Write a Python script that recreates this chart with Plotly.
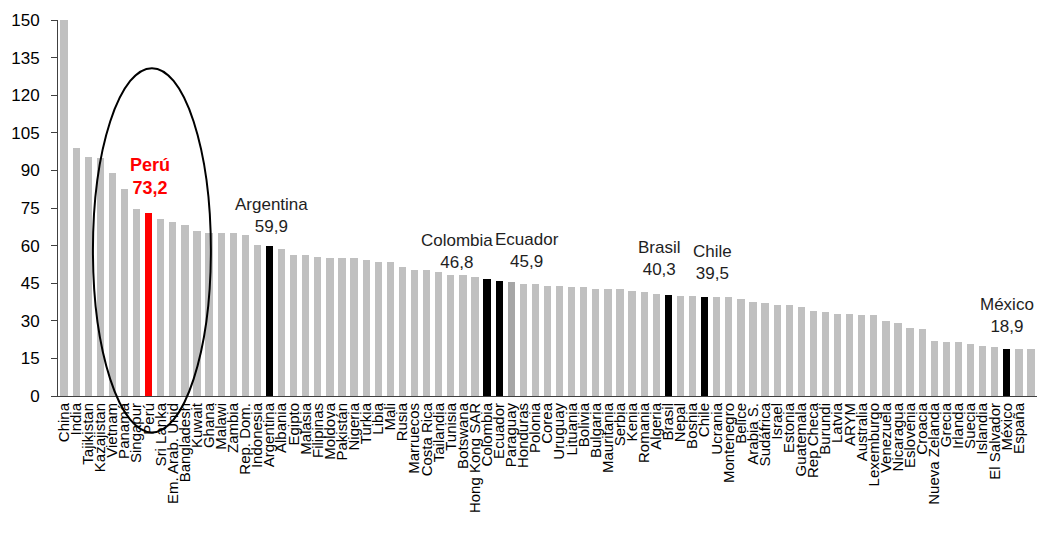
import plotly.graph_objects as go

countries = [
    "China", "India", "Tajikistan", "Kazajistan", "Vietnam", "Panamá", "Singapur", "Perú",
    "Sri Lanka", "Em. Arab. Unid", "Bangladesh", "Kuwait", "Ghana", "Malawi", "Zambia",
    "Rep. Dom.", "Indonesia", "Argentina", "Albania", "Egipto", "Malasia", "Filipinas",
    "Moldova", "Pakistán", "Nigeria", "Turkia", "Libia", "Mali", "Rusia", "Marruecos",
    "Costa Rica", "Tailandia", "Tunisia", "Botswana", "Hong Kong SAR", "Colombia", "Ecuador",
    "Paraguay", "Honduras", "Polonia", "Corea", "Uruguay", "Lituania", "Bolivia", "Bulgaria",
    "Mauritania", "Serbia", "Kenia", "Romania", "Algeria", "Brasil", "Nepal", "Bosnia",
    "Chile", "Ucrania", "Montenegro", "Belice", "Arabia S.", "Sudáfrica", "Israel", "Estonia",
    "Guatemala", "Rep Checa", "Burundi", "Latvia", "ARYM", "Australia", "Lexemburgo",
    "Venezuela", "Nicaragua", "Eslovenia", "Croacia", "Nueva Zelanda", "Grecia", "Irlanda",
    "Suecia", "Islandia", "El Salvador", "México", "España", "España",
]

values = [
    150.0, 98.8, 95.5, 94.8, 88.8, 82.6, 74.6, 73.2,
    70.5, 69.3, 68.3, 65.8, 64.9, 64.9, 64.9,
    64.4, 60.2, 59.9, 58.5, 56.2, 56.2, 55.6,
    54.9, 54.9, 54.9, 54.2, 53.6, 53.6, 51.6, 50.3,
    50.3, 49.6, 48.3, 48.3, 47.6, 46.8, 45.9,
    45.3, 44.7, 44.7, 44.0, 44.0, 43.6, 43.5, 42.8,
    42.8, 42.8, 42.0, 41.5, 40.8, 40.3, 40.0, 40.0,
    39.5, 39.4, 39.4, 38.7, 37.4, 37.2, 36.3, 36.3,
    35.4, 34.0, 33.4, 32.7, 32.7, 32.2, 32.2,
    30.0, 29.2, 27.3, 26.6, 21.9, 21.4, 21.4,
    20.7, 20.1, 19.4, 18.9, 18.6, 18.6,
]

# countries called out above their bars
labelled = ["Perú", "Argentina", "Colombia", "Ecuador", "Brasil", "Chile", "México"]

bar_colors = {"Perú": "#ff0000", "Paraguay": "#a6a6a6"}
for name in labelled[1:]:
    bar_colors[name] = "#000000"
colors = [bar_colors.get(c, "#c0c0c0") for c in countries]

x = list(range(1, len(countries) + 1))
FONT = "Arial, Liberation Sans, sans-serif"

fig = go.Figure(
    go.Bar(
        x=x,
        y=values,
        width=0.6,
        marker=dict(color=colors, line=dict(width=0)),
        hovertext=countries,
    )
)

# value callouts: (country, xshift px, yshift px)
callouts = [
    ("Argentina", 2, 8),
    ("Colombia", -30, 5),
    ("Ecuador", 28, 8),
    ("Brasil", -9, 14),
    ("Chile", 8, 12),
    ("México", 0, 11),
]
for name, dx, dy in callouts:
    i = countries.index(name)
    fig.add_annotation(
        x=x[i], y=values[i], xref="x", yref="y",
        text=f"{name}<br>{values[i]:.1f}".replace(".", ","),
        showarrow=False, xanchor="center", yanchor="bottom",
        xshift=dx, yshift=dy,
        font=dict(family=FONT, size=17, color="#1e1e1e"),
        align="center",
    )

ip = countries.index("Perú")
fig.add_annotation(
    x=x[ip], y=values[ip], xref="x", yref="y",
    text=f"<b>{countries[ip]}<br>{values[ip]:.1f}</b>".replace(".", ","),
    showarrow=False, xanchor="center", yanchor="bottom",
    xshift=1, yshift=13,
    font=dict(family=FONT, size=18, color="#ff0000"),
    align="center",
)

# ellipse around the Asian group and Perú
fig.add_shape(
    type="circle", xref="x", yref="paper",
    x0=3.39, x1=13.15, y0=-0.097, y1=0.872,
    line=dict(color="#000000", width=2),
    layer="above",
)

fig.update_layout(
    width=1037, height=535,
    margin=dict(l=58, r=0, t=20, b=139),
    paper_bgcolor="#ffffff", plot_bgcolor="#ffffff",
    showlegend=False,
    bargap=0,
    font=dict(family=FONT, color="#000000"),
)

fig.update_xaxes(
    range=[0.5, len(countries) + 0.5],
    tickmode="array", tickvals=x, ticktext=countries,
    tickangle=-90,
    tickfont=dict(size=15, color="#000000"),
    showgrid=False, zeroline=False,
    showline=True, linecolor="#404040", linewidth=1,
    ticks="",
)

fig.update_yaxes(
    range=[0, 150], tickmode="linear", tick0=0, dtick=15,
    tickfont=dict(size=17, color="#000000"),
    showgrid=False, zeroline=False,
    showline=True, linecolor="#404040", linewidth=1,
    ticks="outside", ticklen=6, tickcolor="#404040",
    ticklabelstandoff=8,
)

fig.write_html("out.html")
